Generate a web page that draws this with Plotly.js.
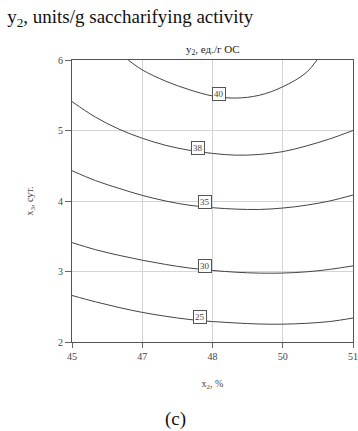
<!DOCTYPE html>
<html>
<head>
<meta charset="utf-8">
<script src="https://cdn.plot.ly/plotly-3.0.1.min.js"></script>
<style>html,body{margin:0;padding:0;background:#fff;}#chart{width:358px;height:431px;}</style>
</head>
<body>
<div id="chart"></div>
<script>
// Contour levels (x2 = %, x3 = days)
var levels = [40, 38, 35, 30, 25];

var c40x = [46.2, 46.5, 47.0, 47.5, 48.0, 48.5, 49.0, 49.5, 50.0, 50.23];
var c40y = [6.0, 5.86, 5.70, 5.58, 5.49, 5.46, 5.50, 5.62, 5.82, 6.0];

var c38x = [45, 45.5, 46, 46.5, 47, 47.5, 48, 48.5, 49, 49.5, 50, 50.5, 51];
var c38y = [5.41, 5.19, 5.02, 4.89, 4.79, 4.72, 4.675, 4.65, 4.66, 4.70, 4.78, 4.88, 5.0];

var c35x = [45, 45.5, 46, 46.5, 47, 47.5, 48, 48.5, 49, 49.5, 50, 50.5, 51];
var c35y = [4.43, 4.29, 4.18, 4.08, 4.0, 3.94, 3.905, 3.885, 3.88, 3.90, 3.94, 4.0, 4.085];

var c30x = [45, 45.5, 46, 46.5, 47, 47.5, 48, 48.5, 49, 49.5, 50, 50.5, 51];
var c30y = [3.41, 3.31, 3.23, 3.16, 3.10, 3.05, 3.015, 2.99, 2.977, 2.978, 2.995, 3.03, 3.08];

var c25x = [45, 45.5, 46, 46.5, 47, 47.5, 48, 48.5, 49, 49.5, 50, 50.5, 51];
var c25y = [2.66, 2.57, 2.49, 2.42, 2.365, 2.32, 2.29, 2.27, 2.255, 2.253, 2.265, 2.29, 2.34];

var labelX = [48.14, 47.69, 47.84, 47.84, 47.73];
var labelY = [5.52, 4.75, 3.99, 3.08, 2.36];

var xTickVals = [45, 46.5, 48, 49.5, 51];
var xTickText = ['45', '47', '48', '50', '51'];
var yTickVals = [2, 3, 4, 5, 6];

var lineColor = '#444';
var serif = 'Liberation Serif, Times New Roman, serif';

var curves = [[c40x, c40y], [c38x, c38y], [c35x, c35y], [c30x, c30y], [c25x, c25y]];
var traces = curves.map(function (c, i) {
  return {
    x: c[0], y: c[1], type: 'scatter', mode: 'lines',
    line: {color: lineColor, width: 1, shape: 'spline', smoothing: 1},
    hoverinfo: 'skip', showlegend: false, name: String(levels[i])
  };
});

var annotations = levels.map(function (lv, i) {
  return {
    x: labelX[i], y: labelY[i], xref: 'x', yref: 'y', text: String(lv),
    showarrow: false, bgcolor: '#fff', bordercolor: '#555', borderwidth: 1, borderpad: 1,
    font: {family: serif, size: 9, color: '#444'}
  };
});

annotations.push({
  xref: 'paper', yref: 'paper', x: 0.5, y: 1.0, yanchor: 'bottom', yshift: 1,
  text: 'y<sub>2</sub>, ед./г ОС', showarrow: false,
  font: {family: serif, size: 11, color: '#222'}
});
annotations.push({
  xref: 'paper', yref: 'paper', x: 0.324, y: 0, yanchor: 'middle', yshift: -77,
  text: '(c)', showarrow: false,
  font: {family: serif, size: 19, color: '#111'}
});

var layout = {
  width: 358, height: 431,
  margin: {l: 72, r: 5, t: 60, b: 89},
  paper_bgcolor: '#fff', plot_bgcolor: '#fff',
  title: {
    text: 'y<sub>2</sub>, units/g saccharifying activity',
    x: 0.02, xanchor: 'left', xref: 'container', y: 0.963, yref: 'container', yanchor: 'middle',
    font: {family: serif, size: 19, color: '#111'}
  },
  xaxis: {
    range: [45, 51], tickvals: xTickVals, ticktext: xTickText,
    showgrid: true, gridcolor: '#d4d4d4', gridwidth: 1,
    showline: true, linecolor: '#555', linewidth: 1, mirror: true,
    ticks: 'outside', ticklen: 5, tickcolor: '#666',
    zeroline: false,
    tickfont: {family: serif, size: 10, color: '#444'},
    title: {text: 'x<sub>2</sub>, %', font: {family: serif, size: 10, color: '#444'}, standoff: 18}
  },
  yaxis: {
    range: [2, 6], tickvals: yTickVals,
    showgrid: true, gridcolor: '#d4d4d4', gridwidth: 1,
    showline: true, linecolor: '#555', linewidth: 1, mirror: true,
    ticks: 'outside', ticklen: 6, tickcolor: '#666',
    zeroline: false,
    tickfont: {family: serif, size: 10, color: '#444'},
    title: {text: 'x<sub>3</sub>, сут.', font: {family: serif, size: 10, color: '#444'}, standoff: 22}
  },
  annotations: annotations,
  showlegend: false
};

Plotly.newPlot('chart', traces, layout, {displayModeBar: false, staticPlot: true});
</script>
</body>
</html>
